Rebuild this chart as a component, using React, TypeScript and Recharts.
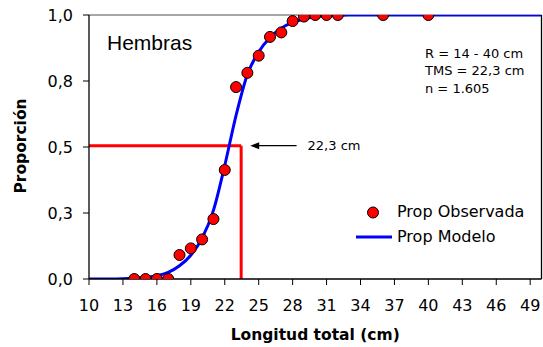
import {
  ComposedChart,
  Line,
  Scatter,
  XAxis,
  YAxis,
  ReferenceLine,
  Legend,
  Customized
} from "recharts";

const obsLength = [14, 15, 16, 17, 18, 19, 20, 21, 22, 23, 24, 25, 26, 27, 28, 29, 30, 31, 32, 36, 40];
const obsProp = [0, 0, 0, 0, 0.091, 0.116, 0.15, 0.227, 0.413, 0.727, 0.781, 0.846, 0.917, 0.934, 0.977, 0.994, 1, 1, 1, 1, 1];

const modelLength = [
  10, 11, 12, 13, 14, 15, 16, 17, 18, 19, 20, 21, 22, 23, 24, 25, 26, 27, 28, 29, 30,
  31, 32, 33, 34, 35, 36, 37, 38, 39, 40, 41, 42, 43, 44, 45, 46, 47, 48, 49, 50
];
const modelProp = [
  0, 0, 0, 0.001, 0.003, 0.006, 0.012, 0.025, 0.05, 0.09, 0.155, 0.26, 0.43, 0.62, 0.775, 0.86, 0.915, 0.95, 0.972, 0.985, 0.993,
  0.997, 0.999, 1, 1, 1, 1, 1, 1, 1, 1, 1, 1, 1, 1, 1, 1, 1, 1, 1, 1
];

const xTicks = [10, 13, 16, 19, 22, 25, 28, 31, 34, 37, 40, 43, 46, 49];
const yTicks = [0, 0.25, 0.5, 0.75, 1];
const yTickLabels = ["0,0", "0,3", "0,5", "0,8", "1,0"];

// TMS guide lines and arrow
const cutLength = 23.45;
const cutProp = 0.505;
const arrowFrom = 28.35;
const arrowTo = 24.25;
const arrowLabel = "22,3 cm";

const panelTitle = "Hembras";
const statsLines = ["R = 14 - 40 cm", "TMS = 22,3 cm", "n = 1.605"];

const obsData = obsLength.map((x, i) => ({ x, y: obsProp[i] }));
const modelData = modelLength.map((x, i) => ({ x, y: modelProp[i] }));

const FONT = "'DejaVu Sans', sans-serif";

const Dot = (p: any) => (
  <circle cx={p.cx} cy={p.cy} r={5.5} fill="#ff0000" stroke="#000" strokeWidth={1} />
);

const ArrowShape = (p: any) => {
  const left = Math.min(p.x1, p.x2);
  const right = Math.max(p.x1, p.x2);
  const y = p.y1;
  return (
    <g>
      <line x1={left + 7} y1={y} x2={right} y2={y} stroke="#000" strokeWidth={1.3} />
      <polygon points={`${left},${y} ${left + 9},${y - 3.5} ${left + 9},${y + 3.5}`} fill="#000" />
      <text x={right + 11} y={y} dominantBaseline="central" fontSize={13} fontFamily={FONT} fill="#000">
        {arrowLabel}
      </text>
    </g>
  );
};

const LegendBox = () => (
  <div style={{ fontFamily: FONT, fontSize: 16, color: "#000", lineHeight: "24.6px" }}>
    <div style={{ display: "flex", alignItems: "center" }}>
      <svg width={41} height={24}>
        <circle cx={17} cy={12.5} r={5.5} fill="#ff0000" stroke="#000" strokeWidth={1} />
      </svg>
      <span>Prop Observada</span>
    </div>
    <div style={{ display: "flex", alignItems: "center" }}>
      <svg width={41} height={24}>
        <line x1={0} y1={12} x2={36} y2={12} stroke="#0000ff" strokeWidth={3} />
      </svg>
      <span>Prop Modelo</span>
    </div>
  </div>
);

const Notes = () => (
  <g fontFamily={FONT}>
    <text x={107} y={50} fontSize={21} fontFamily="'Liberation Sans', Arial, sans-serif" fill="#000">
      {panelTitle}
    </text>
    {statsLines.map((s, i) => (
      <text key={s} x={425} y={53 + i * 17.5} dominantBaseline="central" fontSize={13} fill="#000">
        {s}
      </text>
    ))}
  </g>
);

export default function App() {
  return (
    <div style={{ position: "absolute", left: 0, top: 0, width: 543, height: 347, background: "#fff" }}>
      <ComposedChart
        width={543}
        height={347}
        margin={{ top: 15, right: 1.5, bottom: 0, left: 0 }}
        style={{ fontFamily: FONT }}
      >
        <XAxis
          type="number"
          dataKey="x"
          domain={[10, 50]}
          ticks={xTicks}
          allowDataOverflow
          height={68}
          tickSize={6}
          tickMargin={15}
          axisLine={{ stroke: "#000", strokeWidth: 1.3 }}
          tickLine={{ stroke: "#000" }}
          tick={{ fill: "#000", fontSize: 16, fontFamily: FONT }}
          label={(props: any) => {
            const vb = props.viewBox;
            return (
              <text
                x={vb.x + vb.width / 2}
                y={vb.y + 56}
                textAnchor="middle"
                dominantBaseline="central"
                fontSize={15.5}
                fontWeight="bold"
                fontFamily={FONT}
                fill="#000"
              >
                Longitud total (cm)
              </text>
            );
          }}
        />
        <YAxis
          type="number"
          domain={[0, 1]}
          ticks={yTicks}
          allowDataOverflow
          width={89}
          tickSize={6}
          tickMargin={10}
          tickFormatter={(v: number) => yTickLabels[yTicks.indexOf(v)]}
          axisLine={{ stroke: "#000", strokeWidth: 1.3 }}
          tickLine={{ stroke: "#000" }}
          tick={{ fill: "#000", fontSize: 16, fontFamily: FONT }}
          label={(props: any) => {
            const vb = props.viewBox;
            const cx = vb.x + 21;
            const cy = vb.y + vb.height / 2 - 1;
            return (
              <text
                x={cx}
                y={cy}
                transform={`rotate(-90 ${cx} ${cy})`}
                textAnchor="middle"
                dominantBaseline="central"
                fontSize={15.5}
                fontWeight="bold"
                fontFamily={FONT}
                fill="#000"
              >
                Proporción
              </text>
            );
          }}
        />
        <ReferenceLine y={1} stroke="#888" strokeWidth={1.3} />
        <ReferenceLine x={50} stroke="#000" strokeWidth={1.3} />
        <ReferenceLine
          segment={[
            { x: 10, y: cutProp },
            { x: cutLength, y: cutProp }
          ]}
          stroke="#ff0000"
          strokeWidth={3}
        />
        <ReferenceLine
          segment={[
            { x: cutLength, y: 0 },
            { x: cutLength, y: cutProp }
          ]}
          stroke="#ff0000"
          strokeWidth={3}
        />
        <ReferenceLine
          segment={[
            { x: arrowFrom, y: cutProp },
            { x: arrowTo, y: cutProp }
          ]}
          shape={ArrowShape}
        />
        <Line
          data={modelData}
          dataKey="y"
          name="Prop Modelo"
          type="monotone"
          stroke="#0000ff"
          strokeWidth={3}
          dot={false}
          activeDot={false}
          isAnimationActive={false}
        />
        <Scatter
          data={obsData}
          dataKey="y"
          name="Prop Observada"
          shape={Dot}
          isAnimationActive={false}
        />
        <Legend
          layout="vertical"
          align="center"
          verticalAlign="middle"
          content={LegendBox}
          wrapperStyle={{ left: 356, top: 200, width: 190, height: 50 }}
        />
        <Customized component={Notes} />
      </ComposedChart>
    </div>
  );
}
